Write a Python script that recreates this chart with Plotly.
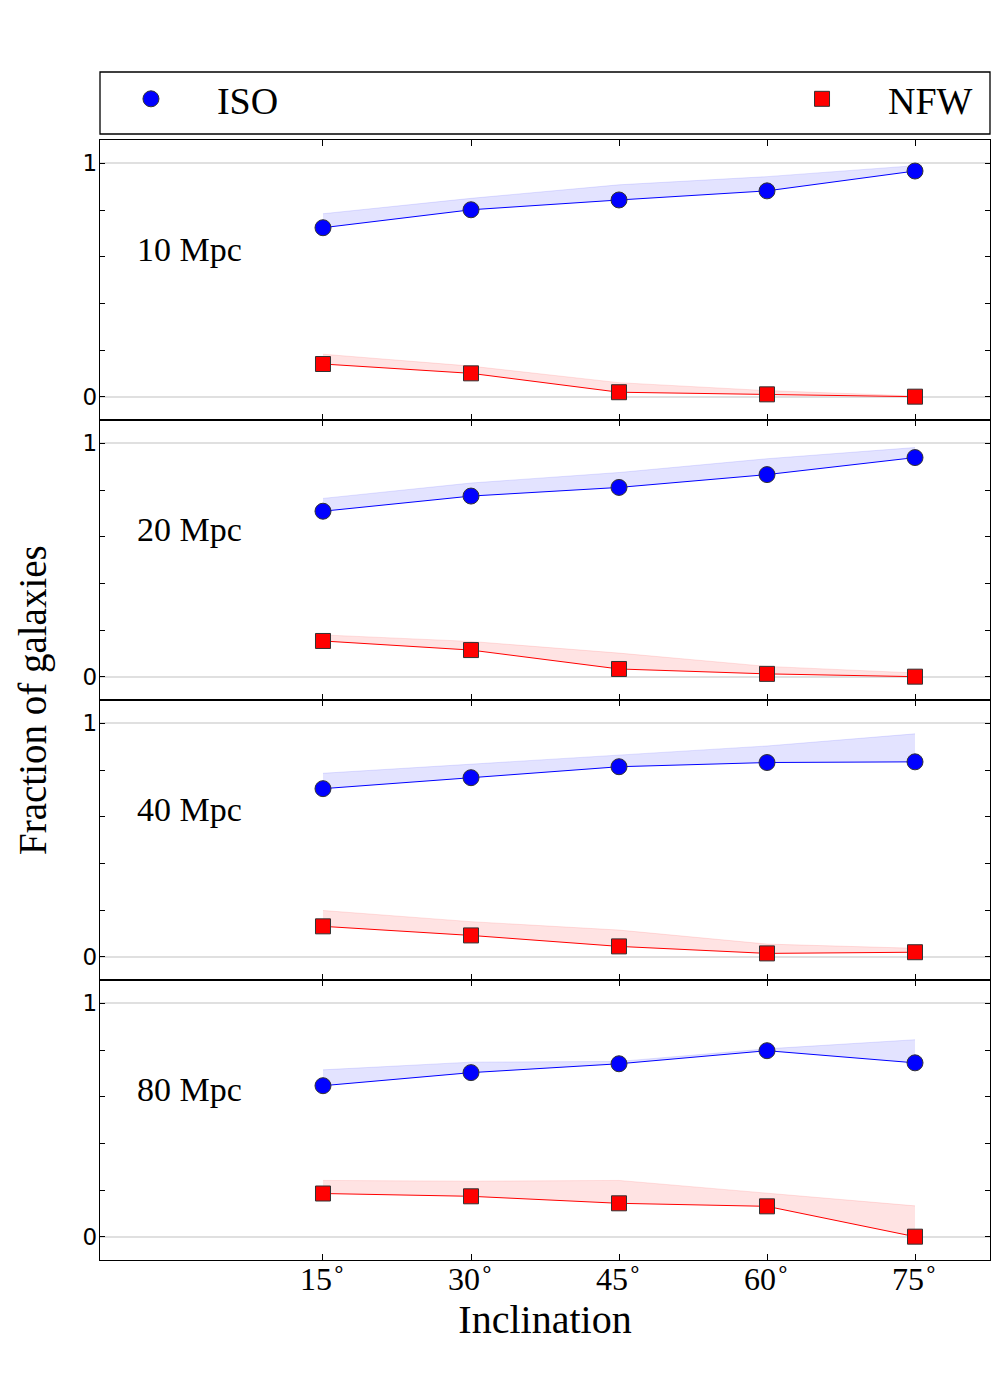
import plotly.graph_objects as go
from plotly.subplots import make_subplots

# ---------------- data ----------------
inclination = [15, 30, 45, 60, 75]
tick_text = ["15<sup>∘</sup>", "30<sup>∘</sup>", "45<sup>∘</sup>", "60<sup>∘</sup>", "75<sup>∘</sup>"]
panel_labels = ["10 Mpc", "20 Mpc", "40 Mpc", "80 Mpc"]

iso_10 = [0.724, 0.801, 0.843, 0.882, 0.967]
iso_10_hi = [0.784, 0.850, 0.908, 0.943, 0.990]
nfw_10 = [0.140, 0.100, 0.019, 0.010, 0.000]
nfw_10_hi = [0.182, 0.131, 0.060, 0.026, 0.003]

iso_20 = [0.709, 0.774, 0.811, 0.866, 0.939]
iso_20_hi = [0.764, 0.830, 0.875, 0.934, 0.982]
nfw_20 = [0.153, 0.114, 0.033, 0.012, 0.000]
nfw_20_hi = [0.179, 0.151, 0.101, 0.044, 0.016]

iso_40 = [0.720, 0.767, 0.814, 0.832, 0.835]
iso_40_hi = [0.786, 0.826, 0.865, 0.903, 0.955]
nfw_40 = [0.130, 0.091, 0.044, 0.014, 0.019]
nfw_40_hi = [0.198, 0.150, 0.114, 0.054, 0.036]

iso_80 = [0.647, 0.703, 0.741, 0.797, 0.745]
iso_80_hi = [0.715, 0.748, 0.751, 0.805, 0.844]
nfw_80 = [0.185, 0.173, 0.143, 0.130, 0.000]
nfw_80_hi = [0.241, 0.238, 0.241, 0.188, 0.132]

iso_series = [iso_10, iso_20, iso_40, iso_80]
iso_hi_series = [iso_10_hi, iso_20_hi, iso_40_hi, iso_80_hi]
nfw_series = [nfw_10, nfw_20, nfw_40, nfw_80]
nfw_hi_series = [nfw_10_hi, nfw_20_hi, nfw_40_hi, nfw_80_hi]

# ---------------- figure ----------------
SERIF = "Liberation Serif, Times New Roman, serif"
SANS = "DejaVu Sans, sans-serif"

fig = make_subplots(rows=4, cols=1, shared_xaxes=False, vertical_spacing=0)

BLUE = "#0000ff"
RED = "#ff0000"
BLUE_FILL = "rgba(0,0,255,0.11)"
RED_FILL = "rgba(255,0,0,0.11)"

for i in range(4):
    r = i + 1
    for name, vals, hi, col, fillc, sym, lg in [
        ("ISO", iso_series[i], iso_hi_series[i], BLUE, BLUE_FILL, "circle", "legend"),
        ("NFW", nfw_series[i], nfw_hi_series[i], RED, RED_FILL, "square", "legend2"),
    ]:
        # upper edge of band
        fig.add_trace(go.Scatter(x=inclination, y=hi, mode="lines",
                                 line=dict(color=fillc, width=1),
                                 showlegend=False, hoverinfo="skip"), row=r, col=1)
        # data line filling to band edge
        fig.add_trace(go.Scatter(x=inclination, y=vals, mode="lines",
                                 line=dict(color=col, width=1),
                                 fill="tonexty", fillcolor=fillc,
                                 showlegend=False, hoverinfo="skip"), row=r, col=1)
        # markers
        fig.add_trace(go.Scatter(x=inclination, y=vals, mode="markers", name=name,
                                 marker=dict(symbol=sym, color=col,
                                             size=16 if sym == "circle" else 15,
                                             line=dict(color="#333333", width=1)),
                                 showlegend=(i == 0), legend=lg), row=r, col=1)
    fig.add_annotation(x=-4.05, y=0.63, xref=f"x{'' if r == 1 else r}", yref=f"y{'' if r == 1 else r}",
                       text=panel_labels[i], showarrow=False, xanchor="left", yanchor="middle",
                       font=dict(family=SERIF, size=34, color="black"))

for r in range(1, 5):
    fig.update_xaxes(range=[-7.6, 82.6], tickvals=inclination, ticktext=tick_text,
                     showticklabels=(r == 4), ticks="inside", ticklen=6, tickcolor="black",
                     showline=True, linecolor="black", linewidth=1.3, mirror="allticks",
                     showgrid=False, zeroline=False, ticklabelstandoff=-10,
                     tickfont=dict(family=SERIF, size=32, color="black"), row=r, col=1)
    fig.update_yaxes(range=[-0.1, 1.1], tickvals=[0, 1], ticktext=["0", "1"],
                     ticks="inside", ticklen=5, tickcolor="black",
                     minor=dict(tickvals=[0.2, 0.4, 0.6, 0.8], ticks="inside", ticklen=5,
                                tickcolor="black", showgrid=False),
                     showline=True, linecolor="black", linewidth=1.3, mirror="allticks",
                     showgrid=True, gridcolor="#e0e0e0", gridwidth=2, zeroline=False,
                     ticklabelstandoff=-3,
                     tickfont=dict(family=SANS, size=23, color="black"), row=r, col=1)

fig.update_xaxes(title=dict(text="Inclination", font=dict(family=SERIF, size=40, color="black"),
                            standoff=4), row=4, col=1)

# y title
fig.add_annotation(x=-0.0753, y=0.5, xref="paper", yref="paper", text="Fraction of galaxies",
                   textangle=-90, showarrow=False, xanchor="center", yanchor="middle",
                   font=dict(family=SERIF, size=39, color="black"))

# legend box
fig.add_shape(type="rect", xref="paper", yref="paper", x0=0, x1=1, y0=1.00536, y1=1.0607,
              line=dict(color="black", width=1.3), fillcolor="rgba(0,0,0,0)")

fig.update_layout(
    width=1000, height=1400, autosize=False,
    margin=dict(l=92, r=18, t=132, b=148),
    paper_bgcolor="white", plot_bgcolor="white",
    legend=dict(x=-0.0169, y=1.0365, xanchor="left", yanchor="middle", orientation="h",
                itemwidth=122, bgcolor="rgba(0,0,0,0)", borderwidth=0,
                font=dict(family=SERIF, size=38, color="black")),
    legend2=dict(x=0.7371, y=1.0365, xanchor="left", yanchor="middle", orientation="h",
                 itemwidth=122, bgcolor="rgba(0,0,0,0)", borderwidth=0,
                 font=dict(family=SERIF, size=38, color="black")),
)

fig.write_html("out.html")
